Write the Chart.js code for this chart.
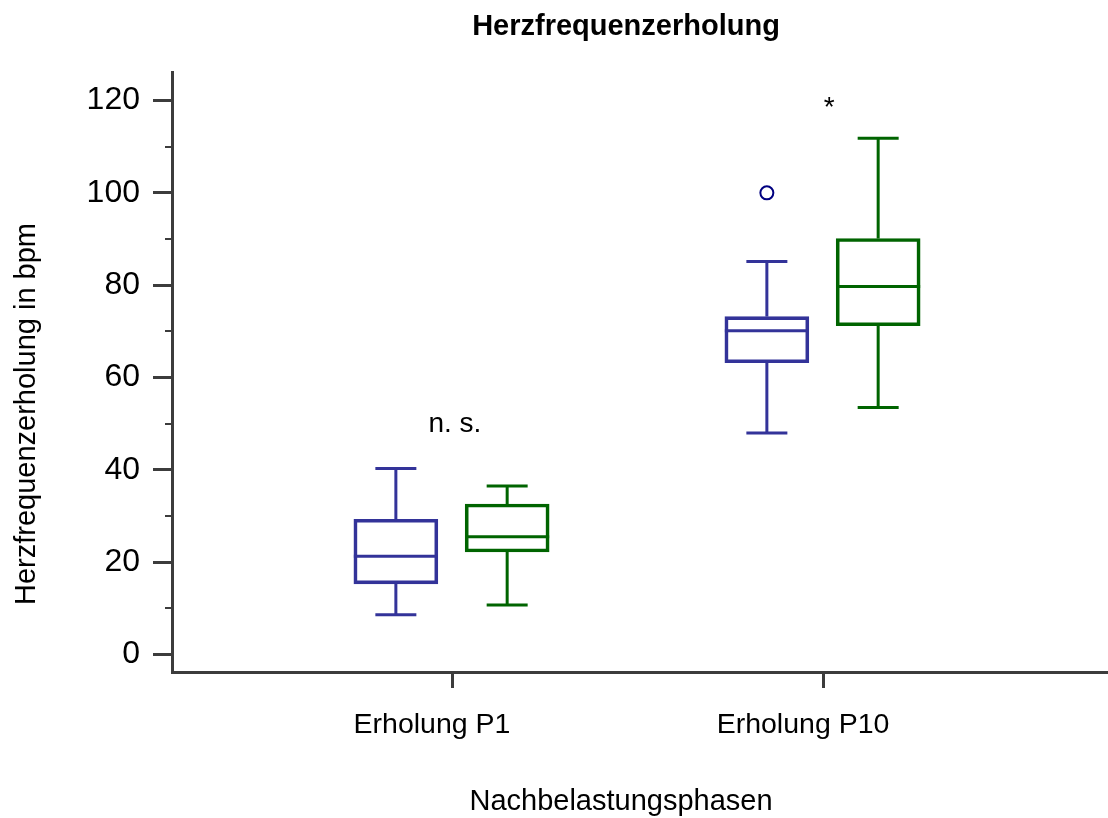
<!DOCTYPE html>
<html>
<head>
<meta charset="utf-8">
<title>Herzfrequenzerholung</title>
<script src="https://cdn.jsdelivr.net/npm/chart.js@4.4.1/dist/chart.umd.min.js"></script>
<style>
  html, body { margin: 0; padding: 0; background: #ffffff; }
  #wrap { width: 1108px; height: 818px; position: relative; }
</style>
</head>
<body>
<div id="wrap"><canvas id="c" width="1108" height="818"></canvas></div>
<script>
// ---------------- data ----------------
const categories = ['Erholung P1', 'Erholung P10'];
const seriesNames = ['Gruppe 1', 'Gruppe 2'];

const blueMin    = [8.6, 48.0];
const blueQ1     = [15.3, 63.2];
const blueMedian = [21.3, 70.1];
const blueQ3     = [29.3, 73.2];
const blueMax    = [40.3, 85.1];
const blueOutliers = [[], [100.0]];

const greenMin    = [10.7, 53.5];
const greenQ1     = [22.2, 71.2];
const greenMedian = [25.5, 79.7];
const greenQ3     = [32.6, 90.1];
const greenMax    = [36.5, 111.8];
const greenOutliers = [[], []];

const yTicks = [0, 20, 40, 60, 80, 100, 120];
const yMinorTicks = [10, 30, 50, 70, 90, 110];

const significanceLabels = ['n. s.', '*'];
const significanceAt = [48.3, 116.6];

const chartTitle = 'Herzfrequenzerholung';
const xTitle = 'Nachbelastungsphasen';
const yTitle = 'Herzfrequenzerholung in bpm';

// ---------------- styling ----------------
const FONT = "'Liberation Sans', Arial, Helvetica, sans-serif";
const axisColor = '#3c3c3c';
const seriesStyles = [
  { color: '#333399', offset: -0.154 },
  { color: '#006400', offset: 0.146 }
];
const outlierColor = '#000080';
const labelShift = [0.005, 0.014];

const series = [
  { name: seriesNames[0], min: blueMin, q1: blueQ1, med: blueMedian, q3: blueQ3, max: blueMax, out: blueOutliers },
  { name: seriesNames[1], min: greenMin, q1: greenQ1, med: greenMedian, q3: greenQ3, max: greenMax, out: greenOutliers }
];

Chart.defaults.font.family = FONT;
Chart.defaults.color = '#000';

const datasets = series.map((s, si) => ({
  type: 'bar',
  label: s.name,
  data: categories.map((c, i) => ({ x: i + seriesStyles[si].offset, y: [s.q1[i], s.q3[i]] })),
  backgroundColor: 'rgba(255,255,255,0)',
  borderColor: seriesStyles[si].color,
  borderWidth: 3,
  borderSkipped: false,
  grouped: false,
  maxBarThickness: 84,
  barPercentage: 1,
  categoryPercentage: 1
}));

series.forEach((s, si) => {
  const pts = [];
  s.out.forEach((arr, i) => arr.forEach(v => pts.push({ x: i + seriesStyles[si].offset, y: v })));
  if (pts.length) {
    datasets.push({
      type: 'scatter',
      label: s.name + ' Ausreißer',
      data: pts,
      pointStyle: 'circle',
      pointRadius: 6.5,
      pointHoverRadius: 6.5,
      pointBorderWidth: 2,
      borderColor: si === 0 ? outlierColor : seriesStyles[si].color,
      backgroundColor: 'rgba(255,255,255,0)'
    });
  }
});

const boxPlugin = {
  id: 'boxWhiskers',
  afterDatasetsDraw(chart) {
    const ctx = chart.ctx;
    const xs = chart.scales.x, ys = chart.scales.y;
    ctx.save();
    ctx.lineCap = 'butt';
    ctx.lineWidth = 3;
    const capHalf = 20.5;
    const line = (x1, y1, x2, y2) => { ctx.beginPath(); ctx.moveTo(x1, y1); ctx.lineTo(x2, y2); ctx.stroke(); };
    series.forEach((s, si) => {
      const meta = chart.getDatasetMeta(si);
      ctx.strokeStyle = seriesStyles[si].color;
      categories.forEach((c, i) => {
        const bar = meta.data[i];
        const cx = xs.getPixelForValue(i + seriesStyles[si].offset);
        const half = bar.width / 2;
        const yMin = ys.getPixelForValue(s.min[i]);
        const yQ1 = ys.getPixelForValue(s.q1[i]);
        const yMed = ys.getPixelForValue(s.med[i]);
        const yQ3 = ys.getPixelForValue(s.q3[i]);
        const yMax = ys.getPixelForValue(s.max[i]);
        line(cx, yQ1, cx, yMin);
        line(cx, yQ3, cx, yMax);
        line(cx - capHalf, yMin, cx + capHalf, yMin);
        line(cx - capHalf, yMax, cx + capHalf, yMax);
        line(cx - half, yMed, cx + half, yMed);
      });
    });
    // significance labels
    ctx.fillStyle = '#000';
    ctx.font = '28px ' + FONT;
    ctx.textAlign = 'center';
    ctx.textBaseline = 'alphabetic';
    significanceLabels.forEach((t, i) => {
      ctx.fillText(t, xs.getPixelForValue(i + labelShift[i]), ys.getPixelForValue(significanceAt[i]));
    });
    ctx.restore();
  },
  afterDraw(chart) {
    const ctx = chart.ctx;
    const ys = chart.scales.y;
    const area = chart.chartArea;
    ctx.save();
    // minor ticks
    ctx.strokeStyle = axisColor;
    ctx.lineWidth = 2;
    yMinorTicks.forEach(v => {
      const y = Math.round(ys.getPixelForValue(v));
      ctx.beginPath(); ctx.moveTo(area.left - 7, y); ctx.lineTo(area.left, y); ctx.stroke();
    });
    // titles
    ctx.fillStyle = '#000';
    ctx.textAlign = 'center';
    ctx.textBaseline = 'alphabetic';
    ctx.font = 'bold 29px ' + FONT;
    ctx.fillText(chartTitle, 626, 35);
    ctx.font = '29px ' + FONT;
    ctx.fillText(xTitle, 621, 810);
    ctx.translate(35, 414);
    ctx.rotate(-Math.PI / 2);
    ctx.fillText(yTitle, 0, 0);
    ctx.restore();
  }
};

new Chart(document.getElementById('c'), {
  type: 'bar',
  data: { datasets },
  plugins: [boxPlugin],
  options: {
    responsive: false,
    devicePixelRatio: 1,
    animation: false,
    events: [],
    layout: { autoPadding: false, padding: { top: 72, right: 0, bottom: 0, left: 0 } },
    plugins: {
      legend: { display: false },
      title: { display: false },
      tooltip: { enabled: false }
    },
    scales: {
      x: {
        type: 'linear',
        min: -0.7574,
        max: 1.7655,
        offset: false,
        afterFit(s) { s.height = 146; s.paddingLeft = 0; s.paddingRight = 0; },
        afterBuildTicks(s) { s.ticks = categories.map((c, i) => ({ value: i })); },
        grid: {
          drawOnChartArea: false, drawTicks: true, offset: false,
          tickLength: 16, tickWidth: 3, tickColor: axisColor
        },
        border: { display: true, color: axisColor, width: 3 },
        ticks: {
          autoSkip: false, maxRotation: 0, minRotation: 0,
          padding: 20,
          labelOffset: -21,
          color: '#000',
          font: { size: 28.5, family: FONT },
          callback: (v) => categories[Math.round(v)]
        }
      },
      y: {
        type: 'linear',
        min: -3.79,
        max: 126.17,
        afterFit(s) { s.width = 172; s.paddingTop = 0; s.paddingBottom = 0; },
        afterBuildTicks(s) { s.ticks = yTicks.map(v => ({ value: v })); },
        grid: {
          drawOnChartArea: false, drawTicks: true,
          tickLength: 19, tickWidth: 3, tickColor: axisColor
        },
        border: { display: true, color: axisColor, width: 3 },
        ticks: {
          autoSkip: false,
          padding: 13,
          color: '#000',
          font: { size: 32, family: FONT },
          callback: (v) => String(v)
        }
      }
    }
  }
});
</script>
</body>
</html>
